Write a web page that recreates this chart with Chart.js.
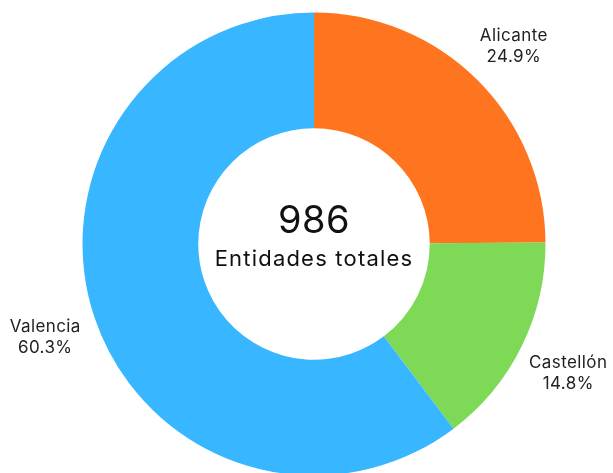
<!DOCTYPE html>
<html lang="es">
<head>
  <meta charset="UTF-8">
  <title>Entidades por provincia</title>
  <script src="https://cdn.jsdelivr.net/npm/chart.js"></script>
  <style>
    html, body {
      margin: 0;
      padding: 0;
      background: #fff;
      overflow: hidden;
    }

    .grafico-container {
      position: relative;
      width: 613px;
      height: 488px;
    }
  </style>
</head>
<body>
  <div class="grafico-container">
    <canvas id="graficoProvincias"></canvas>
  </div>

  <script>
    const provincias = ['Alicante', 'Castellón', 'Valencia'];
    const porcentajes = [24.9, 14.8, 60.3];
    const colores = ['#ff751f', '#7ed957', '#38b6ff'];
    const totalEntidades = 986;
    const textoCentro = 'Entidades totales';

    const FUENTE = 'Inter, "Noto Sans", sans-serif';

    // etiquetas fuera del anillo + texto central
    const etiquetasPlugin = {
      id: 'etiquetas',
      afterDraw(chart) {
        const ctx = chart.ctx;
        const arcos = chart.getDatasetMeta(0).data;
        ctx.save();
        ctx.fillStyle = '#222';
        ctx.textAlign = 'center';
        ctx.textBaseline = 'middle';

        arcos.forEach((arc, i) => {
          const p = arc.getProps(['x', 'y', 'startAngle', 'endAngle', 'outerRadius']);
          const ang = (p.startAngle + p.endAngle) / 2;
          const r = p.outerRadius + 52;
          const x = p.x + Math.cos(ang) * r;
          const y = p.y + Math.sin(ang) * r;
          ctx.font = '17px ' + FUENTE;
          ctx.letterSpacing = '0.4px';
          ctx.fillText(provincias[i], x, y - 7);
          ctx.fillText(porcentajes[i].toFixed(1) + '%', x, y + 14);
        });

        const c = arcos[0];
        ctx.fillStyle = '#111';
        ctx.letterSpacing = '0.5px';
        ctx.font = '38px ' + FUENTE;
        ctx.fillText(String(totalEntidades), c.x, c.y - 22);
        ctx.letterSpacing = '1.2px';
        ctx.font = '22px ' + FUENTE;
        ctx.fillText(textoCentro, c.x, c.y + 15);
        ctx.restore();
      }
    };

    const ctx = document.getElementById('graficoProvincias').getContext('2d');
    new Chart(ctx, {
      type: 'doughnut',
      data: {
        labels: provincias,
        datasets: [{
          data: porcentajes,
          backgroundColor: colores,
          borderWidth: 0
        }]
      },
      options: {
        responsive: true,
        maintainAspectRatio: false,
        animation: false,
        cutout: '50%',
        layout: {
          padding: { left: 20, right: 5, top: 12.5, bottom: 12.5 }
        },
        plugins: {
          legend: { display: false },
          tooltip: { enabled: false }
        }
      },
      plugins: [etiquetasPlugin]
    });
  </script>
</body>
</html>
